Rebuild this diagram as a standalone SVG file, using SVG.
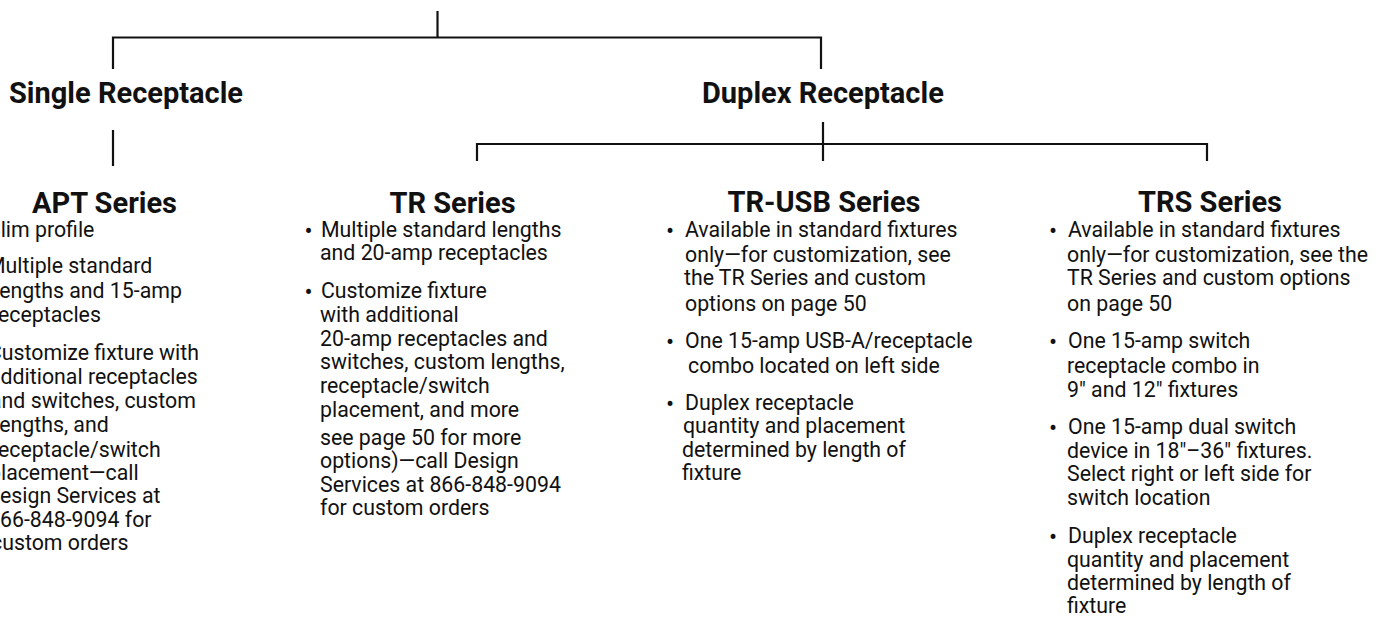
<svg xmlns="http://www.w3.org/2000/svg" width="1382" height="618" viewBox="0 0 1382 618">
<style>
.h{font-family:Roboto,"Liberation Sans",sans-serif;font-weight:bold;font-size:29px;fill:#111;}
.t{font-family:Roboto,"Liberation Sans",sans-serif;font-size:21.3px;fill:#111;}
.b{font-family:Roboto,"Liberation Sans",sans-serif;font-size:24px;fill:#111;text-anchor:middle;}
.c{fill:none;stroke:#111;stroke-width:2.2;}
</style>
<rect width="1382" height="618" fill="#fff"/>
<g id="connectors" class="c">
<path d="M437.5 11 V37.5"/>
<path d="M113 69 V37.5 H821 V69"/>
<path d="M113 130 V166"/>
<path d="M823 122 V161"/>
<path d="M477 161 V144 H1207 V161"/>
</g>
<g id="single-receptacle">
<text class="h" x="9" y="103">Single Receptacle</text>
</g>
<g id="duplex-receptacle">
<text class="h" x="702" y="103">Duplex Receptacle</text>
</g>
<g id="apt-series">
<text class="h" x="104.5" y="213" text-anchor="middle">APT Series</text>
<text class="t" x="-12" y="237">Slim profile</text>
<text class="t" x="-13" y="273">Multiple standard</text>
<text class="t" x="-6" y="298">lengths and 15-amp</text>
<text class="t" x="-9" y="322">receptacles</text>
<text class="t" x="-12" y="360">Customize fixture with</text>
<text class="t" x="-11" y="384">additional receptacles</text>
<text class="t" x="-10" y="408">and switches, custom</text>
<text class="t" x="-6" y="432">lengths, and</text>
<text class="t" x="-9" y="457">receptacle/switch</text>
<text class="t" x="-11" y="480">placement—call</text>
<text class="t" x="-14" y="503">Design Services at</text>
<text class="t" x="-12" y="527">866-848-9094 for</text>
<text class="t" x="-9" y="550">custom orders</text>
</g>
<g id="tr-series">
<text class="h" x="452.5" y="213" text-anchor="middle">TR Series</text>
<text class="b" x="308.5" y="239">•</text>
<text class="t" x="321" y="237">Multiple standard lengths</text>
<text class="t" x="320" y="260">and 20-amp receptacles</text>
<text class="b" x="308.5" y="300">•</text>
<text class="t" x="321" y="298">Customize fixture</text>
<text class="t" x="320" y="322">with additional</text>
<text class="t" x="320" y="346">20-amp receptacles and</text>
<text class="t" x="320" y="369">switches, custom lengths,</text>
<text class="t" x="320" y="393">receptacle/switch</text>
<text class="t" x="320" y="417">placement, and more</text>
<text class="t" x="320" y="445">see page 50 for more</text>
<text class="t" x="320" y="468">options)—call Design</text>
<text class="t" x="320" y="492">Services at 866-848-9094</text>
<text class="t" x="320" y="515">for custom orders</text>
</g>
<g id="tr-usb-series">
<text class="h" x="824" y="212" text-anchor="middle">TR-USB Series</text>
<text class="b" x="670" y="239">•</text>
<text class="t" x="685" y="237">Available in standard fixtures</text>
<text class="t" x="685" y="262">only—for customization, see</text>
<text class="t" x="684" y="285">the TR Series and custom</text>
<text class="t" x="685" y="311">options on page 50</text>
<text class="b" x="670" y="350">•</text>
<text class="t" x="685" y="348">One 15-amp USB-A/receptacle</text>
<text class="t" x="688" y="373">combo located on left side</text>
<text class="b" x="670" y="412">•</text>
<text class="t" x="685" y="410">Duplex receptacle</text>
<text class="t" x="683" y="433">quantity and placement</text>
<text class="t" x="682" y="457">determined by length of</text>
<text class="t" x="682" y="480">fixture</text>
</g>
<g id="trs-series">
<text class="h" x="1210" y="212" text-anchor="middle">TRS Series</text>
<text class="b" x="1053" y="239">•</text>
<text class="t" x="1068" y="237">Available in standard fixtures</text>
<text class="t" x="1067" y="262">only—for customization, see the</text>
<text class="t" x="1067" y="285">TR Series and custom options</text>
<text class="t" x="1067" y="311">on page 50</text>
<text class="b" x="1053" y="350">•</text>
<text class="t" x="1068" y="348">One 15-amp switch</text>
<text class="t" x="1067" y="373">receptacle combo in</text>
<text class="t" x="1067" y="397">9" and 12" fixtures</text>
<text class="b" x="1053" y="436">•</text>
<text class="t" x="1068" y="434">One 15-amp dual switch</text>
<text class="t" x="1067" y="458">device in 18"–36" fixtures.</text>
<text class="t" x="1067" y="481">Select right or left side for</text>
<text class="t" x="1067" y="505">switch location</text>
<text class="b" x="1053" y="545">•</text>
<text class="t" x="1068" y="543">Duplex receptacle</text>
<text class="t" x="1067" y="567">quantity and placement</text>
<text class="t" x="1067" y="590">determined by length of</text>
<text class="t" x="1067" y="613">fixture</text>
</g>
</svg>
